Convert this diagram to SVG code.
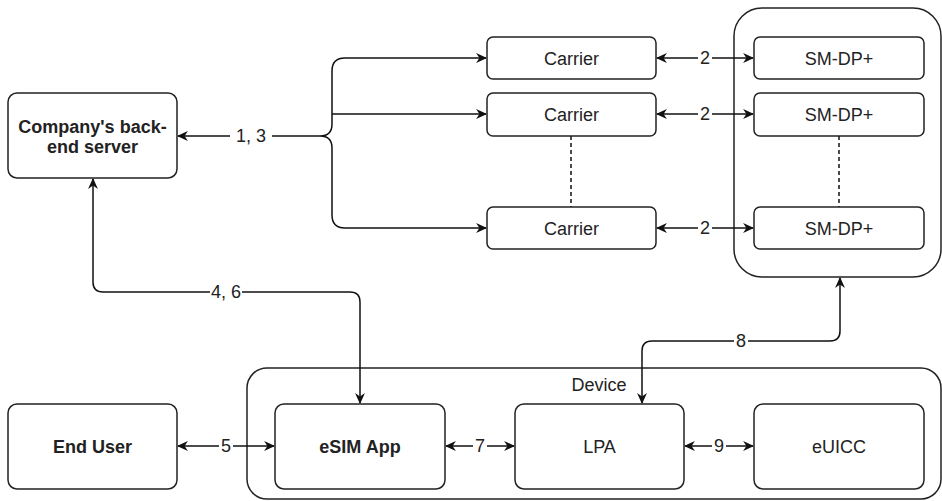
<svg xmlns="http://www.w3.org/2000/svg" width="942" height="501" viewBox="0 0 942 501">
<defs>
<marker id="ah" viewBox="0 0 10 10" refX="9" refY="5" markerWidth="11" markerHeight="11" markerUnits="userSpaceOnUse" orient="auto-start-reverse">
<path d="M0,0.5 L10,5 L0,9.5 L3,5 Z" fill="#111"/>
</marker>
</defs>
<style>
rect.n{fill:#fff;stroke:#222;stroke-width:1.5}
rect.g{fill:none;stroke:#222;stroke-width:1.5}
text{font-family:"Liberation Sans",Arial,sans-serif;font-size:18px;fill:#222;text-anchor:middle}
text.b{font-weight:bold}
.c path,.c line{fill:none;stroke:#111;stroke-width:1.5}
.c .d{stroke-dasharray:4 3}
.c .a{marker-end:url(#ah)}
.c .aa{marker-start:url(#ah);marker-end:url(#ah)}
.lbl{fill:#fff;stroke:none}
</style>
<g id="device-group">
<rect class="g" x="247" y="368" width="694" height="131" rx="20"/>
<text x="599" y="391">Device</text>
</g>
<g id="smdp-group">
<rect class="g" x="734" y="8" width="207" height="269" rx="28"/>
</g>
<g class="c" id="connectors">
<path d="M345,58 Q332,58 332,71 L332,124 Q332,136 320,136 Q332,136 332,148 L332,215 Q332,228 345,228"/>
<line class="a" x1="345" y1="58" x2="486" y2="58"/>
<line class="a" x1="332" y1="114" x2="486" y2="114"/>
<line class="a" x1="345" y1="228" x2="486" y2="228"/>
<line class="a" x1="320" y1="136" x2="178" y2="136"/>
<line class="aa" x1="657" y1="58" x2="753" y2="58"/>
<line class="aa" x1="657" y1="114" x2="753" y2="114"/>
<line class="aa" x1="657" y1="228" x2="753" y2="228"/>
<line class="d" x1="571" y1="136" x2="571" y2="207"/>
<line class="d" x1="839" y1="136" x2="839" y2="207"/>
<path class="aa" d="M93,179 L93,282 Q93,292 103,292 L350,292 Q360,292 360,302 L360,403"/>
<path class="aa" d="M642,403 L642,351 Q642,341 652,341 L830,341 Q840,341 840,331 L840,278"/>
<line class="aa" x1="178" y1="446" x2="274" y2="446"/>
<line class="aa" x1="446" y1="446" x2="514" y2="446"/>
<line class="aa" x1="685" y1="446" x2="753" y2="446"/>
<rect class="lbl" x="230" y="126" width="42" height="20"/>
<text x="251" y="142">1, 3</text>
<rect class="lbl" x="698" y="48" width="14" height="20"/>
<text x="705" y="64">2</text>
<rect class="lbl" x="698" y="104" width="14" height="20"/>
<text x="705" y="120">2</text>
<rect class="lbl" x="698" y="218" width="14" height="20"/>
<text x="705" y="234">2</text>
<rect class="lbl" x="210" y="282" width="32" height="20"/>
<text x="226" y="298">4, 6</text>
<rect class="lbl" x="734" y="331" width="14" height="20"/>
<text x="741" y="347">8</text>
<rect class="lbl" x="219" y="436" width="14" height="20"/>
<text x="226" y="452">5</text>
<rect class="lbl" x="473" y="436" width="14" height="20"/>
<text x="480" y="452">7</text>
<rect class="lbl" x="712" y="436" width="14" height="20"/>
<text x="719" y="452">9</text>
</g>
<g id="company">
<rect class="n" x="8" y="93" width="169" height="85" rx="9"/>
<text class="b" x="92.5" y="133">Company's back-</text>
<text class="b" x="92.5" y="153">end server</text>
</g>
<g id="carrier1">
<rect class="n" x="487" y="37" width="169" height="42" rx="6"/>
<text x="571.5" y="64.5">Carrier</text>
</g>
<g id="carrier2">
<rect class="n" x="487" y="93" width="169" height="43" rx="6"/>
<text x="571.5" y="120.5">Carrier</text>
</g>
<g id="carrier3">
<rect class="n" x="487" y="207" width="169" height="42" rx="6"/>
<text x="571.5" y="234.5">Carrier</text>
</g>
<g id="smdp1">
<rect class="n" x="754" y="37" width="170" height="42" rx="6"/>
<text x="839" y="64.5">SM-DP+</text>
</g>
<g id="smdp2">
<rect class="n" x="754" y="93" width="170" height="43" rx="6"/>
<text x="839" y="120.5">SM-DP+</text>
</g>
<g id="smdp3">
<rect class="n" x="754" y="207" width="170" height="42" rx="6"/>
<text x="839" y="234.5">SM-DP+</text>
</g>
<g id="enduser">
<rect class="n" x="8" y="404" width="169" height="85" rx="9"/>
<text class="b" x="92.5" y="452.5">End User</text>
</g>
<g id="esimapp">
<rect class="n" x="275" y="404" width="170" height="85" rx="9"/>
<text class="b" x="360" y="452.5">eSIM App</text>
</g>
<g id="lpa">
<rect class="n" x="515" y="404" width="169" height="85" rx="9"/>
<text x="599.5" y="452.5">LPA</text>
</g>
<g id="euicc">
<rect class="n" x="754" y="404" width="170" height="85" rx="9"/>
<text x="839" y="452.5">eUICC</text>
</g>
</svg>
